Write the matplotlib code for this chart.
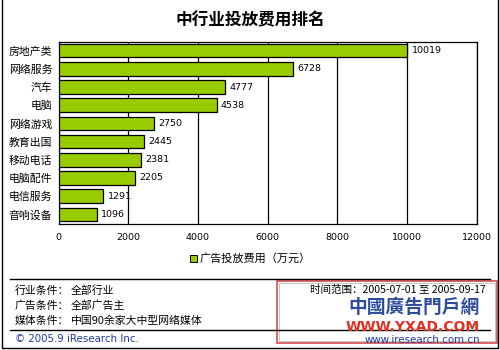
import matplotlib
matplotlib.use("Agg")
import matplotlib.pyplot as plt
from matplotlib.patches import Rectangle
from matplotlib.lines import Line2D

plt.rcParams['font.family'] = ['Noto Sans CJK SC', 'DejaVu Sans']

# Advertising spend by industry (unit: 10k yuan)
categories = ["房地产类", "网络服务", "汽车", "电脑", "网络游戏",
              "教育出国", "移动电话", "电脑配件", "电信服务", "音响设备"]
spend = [10019, 6728, 4777, 4538, 2750, 2445, 2381, 2205, 1291, 1096]
x_ticks = [0, 2000, 4000, 6000, 8000, 10000, 12000]

title = "中行业投放费用排名"
legend_label = "广告投放费用（万元）"
footer_left = [("行业条件：", "全部行业"),
               ("广告条件：", "全部广告主"),
               ("媒体条件：", "中国90余家大中型网络媒体")]
time_range = "时间范围：2005-07-01 至 2005-09-17"
copyright_text = "© 2005.9 iResearch Inc."
site_text = "www.iresearch.com.cn"

W, H = 500, 350
BAR = "#99CC00"
num_font = ['DejaVu Sans']


def px(x, y):
    return x / W, 1 - y / H


fig = plt.figure(figsize=(W / 100, H / 100), dpi=100)
fig.patch.set_facecolor("white")

left, right, top, bottom = 58.5, 476.5, 41.5, 223.5
ax = fig.add_axes([left / W, 1 - bottom / H, (right - left) / W, (bottom - top) / H])

ypos = list(range(len(categories)))
ax.barh(ypos, spend, height=0.74, color=BAR, edgecolor="black", linewidth=0.9, zorder=3)
for y, v in zip(ypos, spend):
    ax.annotate(str(v), (v, y), xytext=(3, 0), textcoords="offset points",
                va="center", ha="left", fontsize=6.8, family=num_font, zorder=4)

ax.set_xlim(x_ticks[0], x_ticks[-1])
ax.set_ylim(len(categories) - 0.5, -0.5)
ax.set_xticks(x_ticks)
ax.set_xticklabels([str(t) for t in x_ticks], fontsize=6.8, family=num_font)
ax.set_yticks(ypos)
ax.set_yticklabels(categories, fontsize=7.8)
ax.tick_params(axis="x", length=0, pad=7)
ax.tick_params(axis="y", length=0, pad=4.5)
ax.grid(axis="x", color="black", linewidth=0.9, zorder=1)
for s in ax.spines.values():
    s.set_color("black")
    s.set_linewidth(0.9)

# Title
fig.text(*px(250, 20), title, ha="center", va="center", fontsize=12, fontweight="bold")

# Legend
fig.patches.append(Rectangle(px(190, 262), 7 / W, 7 / H, transform=fig.transFigure,
                             facecolor=BAR, edgecolor="black", linewidth=0.7))
fig.text(*px(200, 258), legend_label, ha="left", va="center", fontsize=8)

# Separator lines and outer frame
for yy in (279, 330):
    fig.lines.append(Line2D([10 / W, 490 / W], [1 - yy / H] * 2, transform=fig.transFigure,
                            color="black", linewidth=1.0))
fig.lines.append(Line2D([1.5 / W, 1.5 / W, 497.5 / W, 497.5 / W],
                        [1.0, 1 - 347.5 / H, 1 - 347.5 / H, 1.0],
                        transform=fig.transFigure, color="black", linewidth=1.0))

# Footer conditions
for i, (k, v) in enumerate(footer_left):
    yy = 291 + i * 15
    fig.text(*px(15, yy), k, ha="left", va="center", fontsize=7.8)
    fig.text(*px(71, yy), v, ha="left", va="center", fontsize=7.8)
fig.text(*px(310, 290), time_range, ha="left", va="center", fontsize=7.6)
fig.text(*px(15, 339), copyright_text, ha="left", va="center", fontsize=7.4,
         color="#1f3aa8", family=num_font)
fig.text(*px(365, 340), site_text, ha="left", va="center", fontsize=7.4,
         color="#1f3aa8", family=num_font)

# Portal badge in the lower right corner
fig.patches.append(Rectangle(px(277, 343), 220 / W, 62 / H, transform=fig.transFigure,
                             facecolor="none", edgecolor="#d84a4a", linewidth=1.2))
fig.patches.append(Rectangle(px(279, 341), 216 / W, 58 / H, transform=fig.transFigure,
                             facecolor="none", edgecolor="#bbbbbb", linewidth=0.6))
fig.text(*px(414, 307), "中國廣告門戶網", ha="center", va="center", fontsize=13.5,
         fontweight="bold", color="#2f4d9e", family=['Noto Sans CJK TC', 'DejaVu Sans'])
fig.text(*px(413, 327), "WWW.YXAD.COM", ha="center", va="center", fontsize=10,
         fontweight="bold", color="#e03020", family=num_font)

fig.savefig("out.png", dpi=100, facecolor="white")
